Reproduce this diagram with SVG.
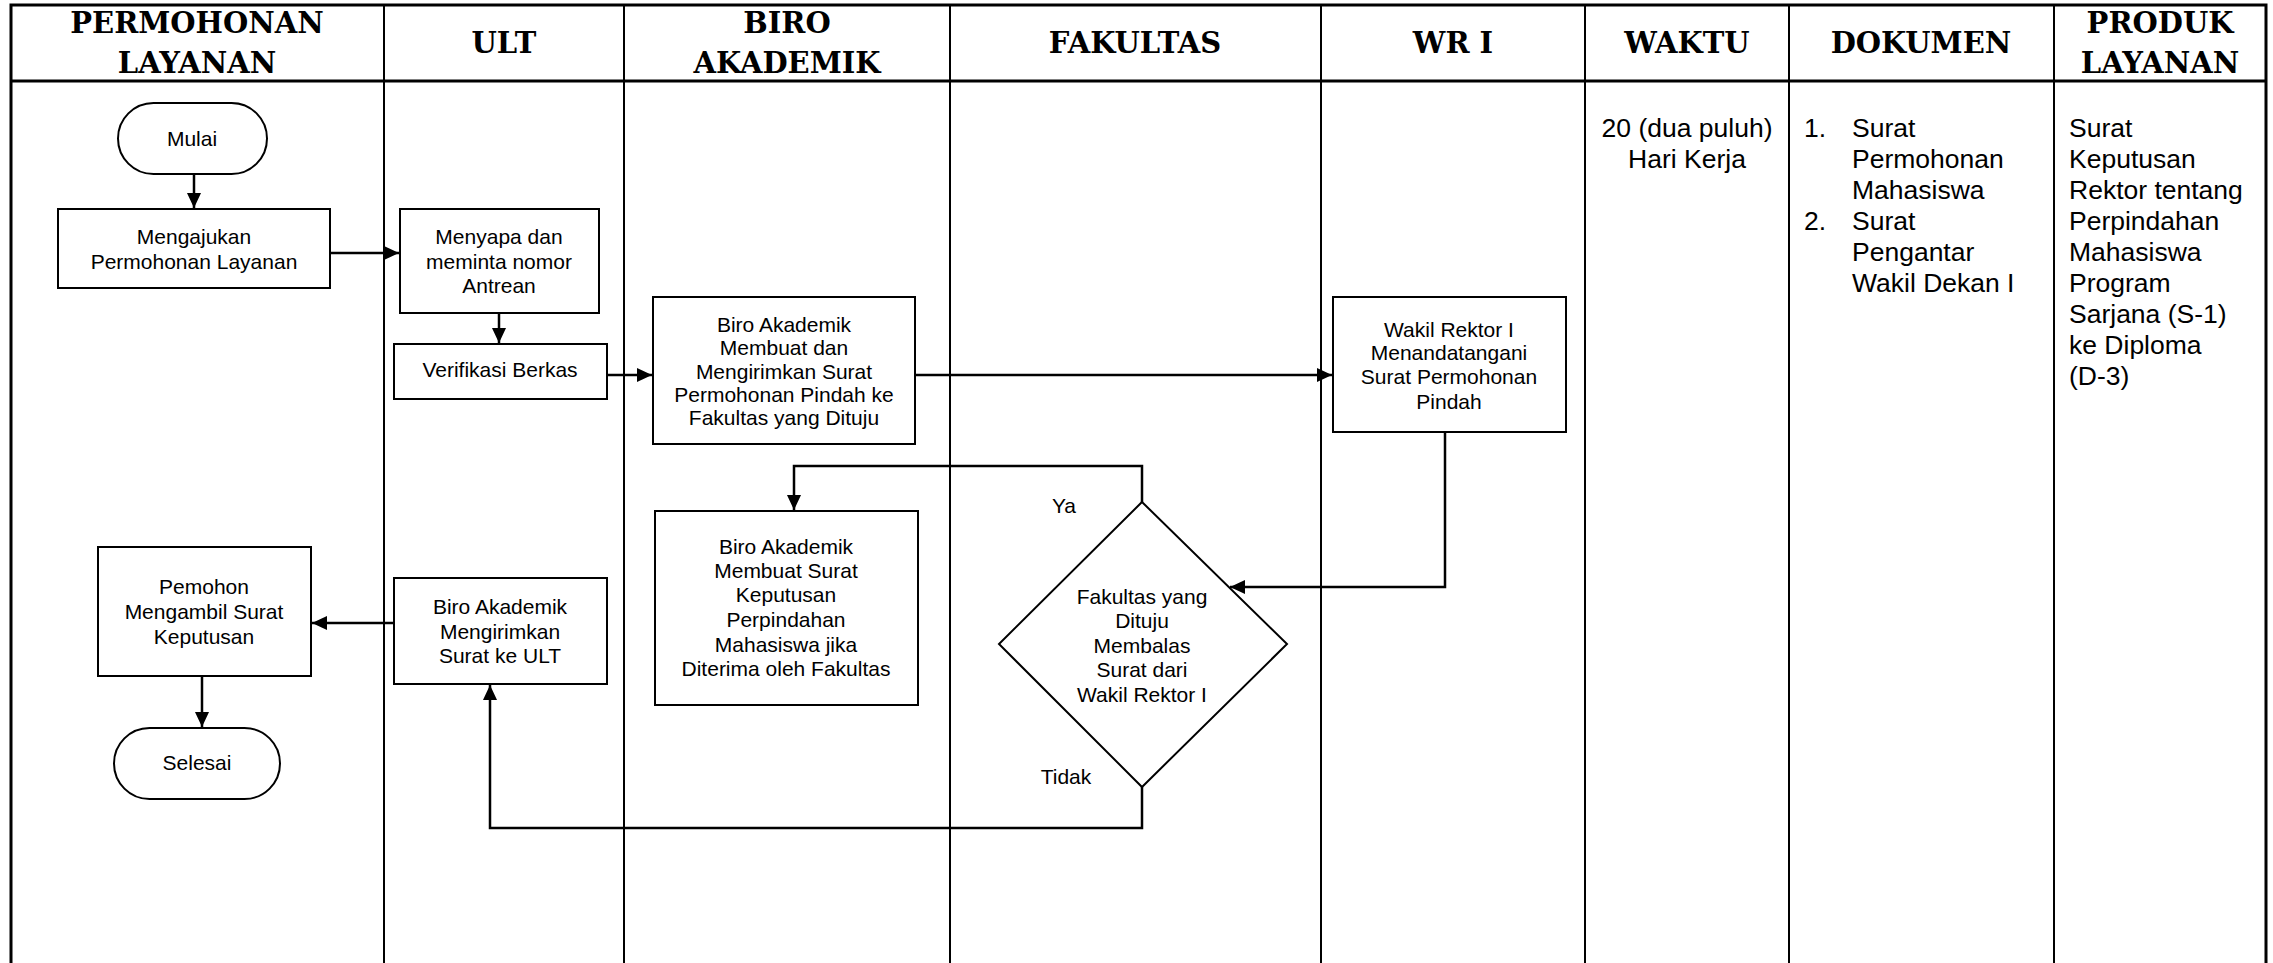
<svg xmlns="http://www.w3.org/2000/svg" width="2273" height="963" viewBox="0 0 2273 963">
<defs>
<marker id="ah" markerUnits="userSpaceOnUse" markerWidth="16" markerHeight="14" refX="15" refY="7" orient="auto">
<path d="M0,0 L15,7 L0,14 Z" fill="#000"/>
</marker>
<style>
.grid{stroke:#000;stroke-width:2;fill:none}
.outer{stroke:#000;stroke-width:3;fill:none}
.hd{font-family:"DejaVu Serif","Liberation Serif",serif;font-weight:bold;font-size:29px;text-anchor:middle;fill:#000}
.box{fill:#fff;stroke:#000;stroke-width:2}
.t{font-family:"Liberation Sans",Arial,sans-serif;font-size:21px;text-anchor:middle;fill:#000}
.big{font-family:"Liberation Sans",Arial,sans-serif;font-size:26.5px;fill:#000}
.cn{stroke:#000;stroke-width:2.5;fill:none}
.arr{marker-end:url(#ah)}
</style>
</defs>
<rect width="2273" height="963" fill="#fff"/>
<g id="table">
<path class="outer" d="M11,980 V5 H2266 V980"/>
<path class="outer" d="M11,81 H2266"/>
<path class="grid" d="M384,5 V963 M624,5 V963 M950,5 V963 M1321,5 V963 M1585,5 V963 M1789,5 V963 M2054,5 V963"/>
<text class="hd" x="197" y="33">PERMOHONAN</text>
<text class="hd" x="197" y="73">LAYANAN</text>
<text class="hd" x="504" y="53">ULT</text>
<text class="hd" x="787" y="33">BIRO</text>
<text class="hd" x="787" y="73">AKADEMIK</text>
<text class="hd" x="1135" y="53">FAKULTAS</text>
<text class="hd" x="1453" y="53">WR I</text>
<text class="hd" x="1687" y="53">WAKTU</text>
<text class="hd" x="1921" y="53">DOKUMEN</text>
<text class="hd" x="2160" y="33">PRODUK</text>
<text class="hd" x="2160" y="73">LAYANAN</text>
</g>
<g id="waktu">
<text class="big" x="1687" y="137" text-anchor="middle">20 (dua puluh)</text>
<text class="big" x="1687" y="168" text-anchor="middle">Hari Kerja</text>
</g>
<g id="dokumen">
<text class="big" x="1804" y="137">1.</text>
<text class="big" x="1852" y="137">Surat</text>
<text class="big" x="1852" y="168">Permohonan</text>
<text class="big" x="1852" y="199">Mahasiswa</text>
<text class="big" x="1804" y="230">2.</text>
<text class="big" x="1852" y="230">Surat</text>
<text class="big" x="1852" y="261">Pengantar</text>
<text class="big" x="1852" y="292">Wakil Dekan I</text>
</g>
<g id="produk">
<text class="big" x="2069" y="137">Surat</text>
<text class="big" x="2069" y="168">Keputusan</text>
<text class="big" x="2069" y="199">Rektor tentang</text>
<text class="big" x="2069" y="230">Perpindahan</text>
<text class="big" x="2069" y="261">Mahasiswa</text>
<text class="big" x="2069" y="292">Program</text>
<text class="big" x="2069" y="323">Sarjana (S-1)</text>
<text class="big" x="2069" y="354">ke Diploma</text>
<text class="big" x="2069" y="385">(D-3)</text>
</g>
<g id="connectors">
<path class="cn arr" d="M194,174 V208"/>
<path class="cn arr" d="M330,253 H399"/>
<path class="cn arr" d="M499,313 V343"/>
<path class="cn arr" d="M607,375 H652"/>
<path class="cn arr" d="M915,375 H1332"/>
<path class="cn arr" d="M1445,432 V587 H1230"/>
<path class="cn arr" d="M1142,502 V466 H794 V510"/>
<path class="cn arr" d="M1142,787 V828 H490 V685"/>
<path class="cn arr" d="M394,623 H312"/>
<path class="cn arr" d="M202,676 V727"/>
<text class="t" x="1064" y="513">Ya</text>
<text class="t" x="1066" y="784">Tidak</text>
</g>
<g id="mulai">
<rect class="box" x="118" y="103" width="149" height="71" rx="35.5"/>
<text class="t" x="192" y="146">Mulai</text>
</g>
<g id="mengajukan">
<rect class="box" x="58" y="209" width="272" height="79"/>
<text class="t" x="194" y="244">Mengajukan</text>
<text class="t" x="194" y="269">Permohonan Layanan</text>
</g>
<g id="menyapa">
<rect class="box" x="400" y="209" width="199" height="104"/>
<text class="t" x="499" y="244">Menyapa dan</text>
<text class="t" x="499" y="269">meminta nomor</text>
<text class="t" x="499" y="293">Antrean</text>
</g>
<g id="verifikasi">
<rect class="box" x="394" y="344" width="213" height="55"/>
<text class="t" x="500" y="377">Verifikasi Berkas</text>
</g>
<g id="biro-membuat">
<rect class="box" x="653" y="297" width="262" height="147"/>
<text class="t" x="784" y="332">Biro Akademik</text>
<text class="t" x="784" y="355">Membuat dan</text>
<text class="t" x="784" y="379">Mengirimkan Surat</text>
<text class="t" x="784" y="402">Permohonan Pindah ke</text>
<text class="t" x="784" y="425">Fakultas yang Dituju</text>
</g>
<g id="wr">
<rect class="box" x="1333" y="297" width="233" height="135"/>
<text class="t" x="1449" y="337">Wakil Rektor I</text>
<text class="t" x="1449" y="360">Menandatangani</text>
<text class="t" x="1449" y="384">Surat Permohonan</text>
<text class="t" x="1449" y="409">Pindah</text>
</g>
<g id="keputusan">
<rect class="box" x="655" y="511" width="263" height="194"/>
<text class="t" x="786" y="554">Biro Akademik</text>
<text class="t" x="786" y="578">Membuat Surat</text>
<text class="t" x="786" y="602">Keputusan</text>
<text class="t" x="786" y="627">Perpindahan</text>
<text class="t" x="786" y="652">Mahasiswa jika</text>
<text class="t" x="786" y="676">Diterima oleh Fakultas</text>
</g>
<g id="decision">
<path class="box" d="M1142,502 L1287,644 L1142,787 L999,644 Z"/>
<text class="t" x="1142" y="604">Fakultas yang</text>
<text class="t" x="1142" y="628">Dituju</text>
<text class="t" x="1142" y="653">Membalas</text>
<text class="t" x="1142" y="677">Surat dari</text>
<text class="t" x="1142" y="702">Wakil Rektor I</text>
</g>
<g id="mengirimkan">
<rect class="box" x="394" y="578" width="213" height="106"/>
<text class="t" x="500" y="614">Biro Akademik</text>
<text class="t" x="500" y="639">Mengirimkan</text>
<text class="t" x="500" y="663">Surat ke ULT</text>
</g>
<g id="pemohon">
<rect class="box" x="98" y="547" width="213" height="129"/>
<text class="t" x="204" y="594">Pemohon</text>
<text class="t" x="204" y="619">Mengambil Surat</text>
<text class="t" x="204" y="644">Keputusan</text>
</g>
<g id="selesai">
<rect class="box" x="114" y="728" width="166" height="71" rx="35.5"/>
<text class="t" x="197" y="770">Selesai</text>
</g>
</svg>
